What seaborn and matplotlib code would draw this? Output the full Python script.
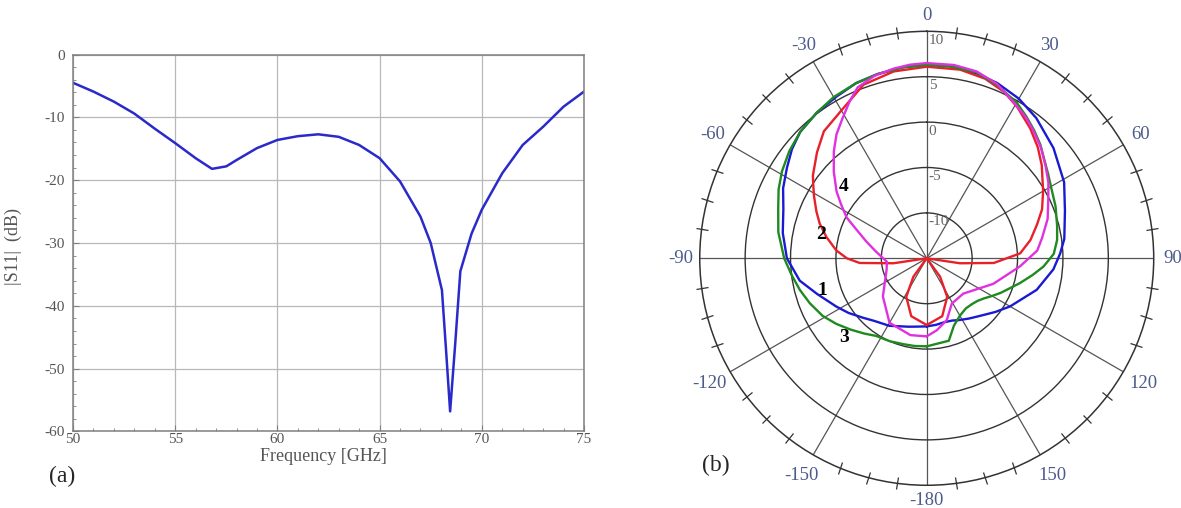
#!/usr/bin/env python3
"""
Return loss |S11| vs frequency (a) and radiation patterns of four designs (b).
"""
import numpy as np
import matplotlib
matplotlib.use('Agg')
import matplotlib.pyplot as plt
import seaborn as sns

# ---- (a) reflection coefficient ----
freq_ghz = [50, 51, 52, 53, 54, 55, 56, 56.8, 57.5, 58, 59, 60, 61, 62, 63, 64,
            65, 66, 67, 67.5, 68.05, 68.25, 68.45, 68.7, 68.95, 69.5, 70, 71,
            72, 73, 74, 75]
s11_db = [-4.5, -5.9, -7.5, -9.4, -11.8, -14.1, -16.5, -18.2, -17.8, -16.8,
          -14.9, -13.6, -13.0, -12.7, -13.1, -14.4, -16.5, -20.2, -25.8, -30.0,
          -37.5, -47.0, -56.8, -46.0, -34.5, -28.5, -24.7, -18.9, -14.4, -11.5,
          -8.3, -5.9]

# ---- (b) radiation patterns, angle in deg, gain in dB ----
ang_1 = [-180, -172, -165, -151, -140, -133, -125, -118, -108, -100, -90, -80,
         -71, -64, -57, -51, -45, -37, -29, -22, -15, -7, 0, 7, 15, 22, 30, 38,
         49, 61, 71, 82, 88, 95, 106, 120, 128, 139, 145, 152, 158, 165, 172,
         180]
gain_1 = [-7.5, -7.4, -7.2, -6.5, -6.0, -5.4, -4.5, -3.7, -2.3, -0.8, 0.4, 1.1,
          1.7, 2.6, 3.35, 4.1, 4.7, 5.1, 5.4, 5.8, 6.0, 6.2, 6.3, 6.3, 6.1, 5.8,
          5.3, 4.6, 3.5, 2.3, 1.1, 0.3, -0.3, -1.0, -2.4, -4.4, -5.4, -6.5,
          -6.9, -7.3, -7.6, -7.7, -7.6, -7.5]

ang_2 = [-180, -165, -152, -144, -140, -105, -98.5, -94, -90, -85, -78, -72,
         -67, -61, -57, -54, -46, -39, -30, -20, -10, 0, 10, 18, 25, 31, 38.5,
         45, 51, 60, 67, 73, 80, 87, 94, 98.5, 105, 140, 144, 152, 165, 180]
gain_2 = [-7.65, -8.4, -10.2, -12.5, -15, -15, -11.3, -7.6, -6.2, -5.0, -3.7,
          -2.6, -1.8, -0.8, -0.1, 0.5, 1.8, 3.0, 3.8, 5.35, 5.9, 6.1, 6.1, 5.8,
          5.2, 4.4, 3.3, 2.3, 1.3, -0.2, -1.2, -2.3, -3.4, -4.7, -7.6, -11.3,
          -15, -15, -12.5, -10.2, -8.4, -7.65]

ang_3 = [-180, -172, -165, -156, -147, -140, -133, -126, -119, -111, -104, -97,
         -90, -80, -71, -65, -59, -52, -45, -37, -30, -22, -15, -7, 0, 7, 15,
         22, 30, 35, 40, 45, 50, 55, 60, 68, 76, 82, 88, 94, 99, 105, 110, 115,
         120, 125, 130, 135, 142, 150, 158, 165, 180]
gain_3 = [-5.3, -5.25, -5.2, -5.0, -4.8, -4.2, -3.5, -2.7, -1.9, -1.2, -0.6,
          0.0, 0.7, 1.6, 2.3, 3.0, 3.6, 4.2, 4.7, 5.1, 5.5, 5.8, 6.0, 6.2, 6.3,
          6.3, 6.2, 5.6, 4.8, 4.1, 3.4, 2.7, 1.9, 1.3, 0.8, 0.3, -0.2, -0.5,
          -1.0, -2.1, -3.2, -4.4, -5.3, -6.0, -6.7, -7.3, -7.7, -7.9, -8.0,
          -7.7, -7.0, -5.6, -5.3]

ang_4 = [-180, -168, -150, -131, -106, -95, -90, -82, -74.5, -68, -63, -58,
         -53.5, -47, -41, -36, -31, -26, -22, -16, -10, -5, 0, 8, 15, 22, 29,
         35, 40, 46, 52, 58, 64, 72, 80, 86, 95, 111, 134, 151, 162, 172, 180]
gain_4 = [-6.4, -6.35, -6.8, -8.6, -10.4, -10.6, -10.2, -9.3, -8.1, -6.7, -5.1,
          -3.9, -2.65, -1.0, 0.6, 1.9, 3.0, 4.3, 5.3, 5.9, 6.2, 6.4, 6.5, 6.5,
          6.3, 5.7, 4.7, 4.0, 3.3, 2.5, 1.6, 0.8, -0.1, -1.0, -2.1, -2.8, -4.7,
          -7.15, -9.4, -9.3, -7.85, -7.0, -6.4]

curve_colors = ['#1a1ad2', '#e8202a', '#1f8a1f', '#e030e0']
curve_tags = ['1', '2', '3', '4']
tag_pos = [(-107, -3.0), (-77.5, -3.1), (-134, -2.4), (-49, -2.9)]

angle_ticks = [0, 30, 60, 90, 120, 150, 180, -150, -120, -90, -60, -30]
angle_names = ['0', '30', '60', '90', '120', '150', '-180', '-150', '-120',
               '-90', '-60', '-30']
label_r = [11.7, 12.0, 12.2, 12.1, 12.6, 12.6, 11.65, 12.6, 12.6, 12.1, 12.2,
           12.0]
ring_vals = [-10, -5, 0, 5, 10]

sns.set_style('white')
plt.rcParams['font.family'] = ['Liberation Serif', 'DejaVu Serif']
plt.rcParams['axes.unicode_minus'] = False

fig = plt.figure(figsize=(11.81, 5.08), dpi=100)

# ---------------- (a) ----------------
ax1 = fig.add_axes([0.0618, 0.1506, 0.4327, 0.7421])
sns.lineplot(x=freq_ghz, y=s11_db, ax=ax1, color='#2a2acb', lw=1.8,
             sort=False, estimator=None)
ax1.set_xlim(50, 75)
ax1.set_ylim(-60, 0)
ax1.set_xticks(range(50, 76, 5))
ax1.set_yticks(range(-60, 1, 10))
ax1.set_xticks(range(50, 76), minor=True)
ax1.set_yticks(range(-60, 1, 2), minor=True)
ax1.grid(True, which='major', color='#b8b8b8', lw=0.9)
for sp in ax1.spines.values():
    sp.set_color('#808080')
    sp.set_linewidth(1.1)
ax1.tick_params(which='both', direction='in', colors='#808080',
                labelcolor='#555555', labelsize=11, bottom=True, left=True)
ax1.tick_params(which='major', length=4)
ax1.tick_params(which='minor', length=2.5)
ax1.tick_params(axis='x', pad=1)
ax1.tick_params(axis='y', pad=6)
ax1.set_xlabel('Frequency [GHz]', fontsize=13, color='#555555')
ax1.set_ylabel('|S11|  (dB)', fontsize=13, color='#555555')
ax1.xaxis.set_label_coords(0.49, -0.045)
ax1.yaxis.set_label_coords(-0.10, 0.49)
fig.text(62 / 1181, 1 - 476 / 508, '(a)', fontsize=17, ha='center',
         va='center')

# ---------------- (b) ----------------
ax2 = fig.add_axes([0.5925, 0.0447, 0.3844, 0.8937], projection='polar')
ax2.set_theta_zero_location('N')
ax2.set_theta_direction(-1)

pattern_ang = [ang_1, ang_2, ang_3, ang_4]
pattern_gain = [gain_1, gain_2, gain_3, gain_4]
for a, g, c in zip(pattern_ang, pattern_gain, curve_colors):
    sns.lineplot(x=np.deg2rad(a), y=g, ax=ax2, color=c, lw=1.7,
                 sort=False, estimator=None)

ax2.set_rlim(-15, 10)
ax2.set_xticks(np.deg2rad(np.arange(0, 360, 30)))
ax2.set_xticklabels([])
ax2.set_xticks(np.deg2rad(np.arange(0, 360, 7.5)), minor=True)
ax2.set_yticks(ring_vals[:-1])
ax2.set_yticklabels([])
ax2.set_xlabel('')
ax2.set_ylabel('')
ax2.grid(True, which='major', color='#555555', lw=0.9)
ax2.yaxis.grid(True, color='#333333', lw=1.0)
ax2.spines['polar'].set_color('#333333')
ax2.spines['polar'].set_linewidth(1.1)
ax2.tick_params(axis='x', which='major', length=0)
ax2.tick_params(axis='x', which='minor', bottom=False, top=True, length=4.5,
                width=0.9, direction='inout', color='#333333')

for t, name, rr in zip(angle_ticks, angle_names, label_r):
    ax2.text(np.deg2rad(t), rr, name, ha='center', va='center',
             fontsize=13.5, color='#4d5a8c')

for rv in ring_vals:
    ax2.annotate(str(rv), xy=(0, rv), xytext=(2, -9),
                 textcoords='offset pixels', ha='left', va='center',
                 fontsize=11, color='#666666')

for tag, (t, r) in zip(curve_tags, tag_pos):
    ax2.text(np.deg2rad(t), r, tag, ha='center', va='center', fontsize=14,
             fontweight='bold', color='black')

fig.text(716 / 1181, 1 - 465 / 508, '(b)', fontsize=17, ha='center',
         va='center')

fig.savefig('out.png', dpi=100)
plt.close('all')
